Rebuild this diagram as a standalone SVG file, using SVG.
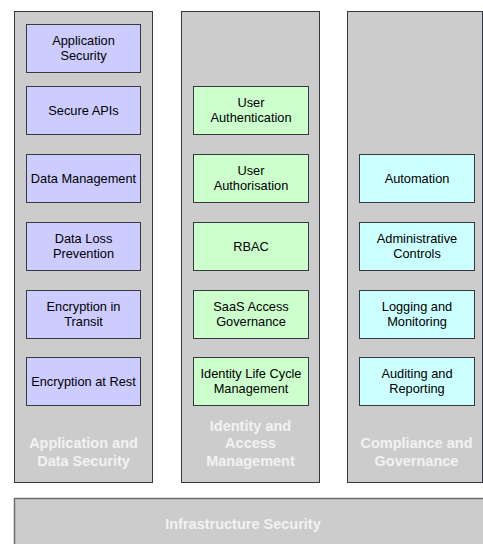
<svg xmlns="http://www.w3.org/2000/svg" width="483" height="544" viewBox="0 0 483 544">
<style>
.col{fill:#cccccc;stroke:#36393d;stroke-width:1}
.bar{fill:#cccccc;stroke:#6e6e6e;stroke-width:1.5}
.p{fill:#ccccff;stroke:#36393d;stroke-width:1}
.g{fill:#ccffcc;stroke:#36393d;stroke-width:1}
.c{fill:#ccffff;stroke:#36393d;stroke-width:1}
text{font-family:"Liberation Sans",Arial,Helvetica,sans-serif;font-size:12.8px;fill:#000;text-anchor:middle}
text.h{font-size:14.5px;font-weight:bold;fill:#f2f2f2}
</style>
<rect width="483" height="544" fill="#ffffff"/>
<g id="col-app">
<rect class="col" x="14.5" y="11.5" width="138" height="471"/>
<text class="h" x="83.5" y="448">Application and</text>
<text class="h" x="83.5" y="466">Data Security</text>
</g>
<g id="col-iam">
<rect class="col" x="181.5" y="11.5" width="138" height="471"/>
<text class="h" x="250.5" y="431">Identity and</text>
<text class="h" x="250.5" y="448">Access</text>
<text class="h" x="250.5" y="466">Management</text>
</g>
<g id="col-comp">
<rect class="col" x="347.5" y="11.5" width="135" height="471"/>
<text class="h" x="416.5" y="448">Compliance and</text>
<text class="h" x="416.5" y="466">Governance</text>
</g>
<g id="infra">
<rect class="bar" x="14.5" y="498.5" width="480" height="60"/>
<text class="h" x="243" y="529">Infrastructure Security</text>
</g>
<g id="app-sec"><rect class="p" x="26.5" y="24.5" width="114" height="48"/><text x="83.5" y="45">Application</text><text x="83.5" y="60">Security</text></g>
<g id="secure-apis"><rect class="p" x="26.5" y="86.5" width="114" height="48"/><text x="83.5" y="115">Secure APIs</text></g>
<g id="data-mgmt"><rect class="p" x="26.5" y="154.5" width="114" height="48"/><text x="83.5" y="183">Data Management</text></g>
<g id="dlp"><rect class="p" x="26.5" y="222.5" width="114" height="48"/><text x="83.5" y="243">Data Loss</text><text x="83.5" y="258">Prevention</text></g>
<g id="enc-transit"><rect class="p" x="26.5" y="290.5" width="114" height="48"/><text x="83.5" y="311">Encryption in</text><text x="83.5" y="326">Transit</text></g>
<g id="enc-rest"><rect class="p" x="26.5" y="357.5" width="114" height="48"/><text x="83.5" y="386">Encryption at Rest</text></g>
<g id="user-authn"><rect class="g" x="193.5" y="86.5" width="115" height="48"/><text x="251" y="107">User</text><text x="251" y="122">Authentication</text></g>
<g id="user-authz"><rect class="g" x="193.5" y="154.5" width="115" height="48"/><text x="251" y="175">User</text><text x="251" y="190">Authorisation</text></g>
<g id="rbac"><rect class="g" x="193.5" y="222.5" width="115" height="48"/><text x="251" y="251">RBAC</text></g>
<g id="saas"><rect class="g" x="193.5" y="290.5" width="115" height="48"/><text x="251" y="311">SaaS Access</text><text x="251" y="326">Governance</text></g>
<g id="ilm"><rect class="g" x="193.5" y="357.5" width="115" height="48"/><text x="251" y="378">Identity Life Cycle</text><text x="251" y="393">Management</text></g>
<g id="automation"><rect class="c" x="359.5" y="154.5" width="115" height="48"/><text x="417" y="183">Automation</text></g>
<g id="admin"><rect class="c" x="359.5" y="222.5" width="115" height="48"/><text x="417" y="243">Administrative</text><text x="417" y="258">Controls</text></g>
<g id="logging"><rect class="c" x="359.5" y="290.5" width="115" height="48"/><text x="417" y="311">Logging and</text><text x="417" y="326">Monitoring</text></g>
<g id="auditing"><rect class="c" x="359.5" y="357.5" width="115" height="48"/><text x="417" y="378">Auditing and</text><text x="417" y="393">Reporting</text></g>
<g id="connectors"></g>
</svg>
